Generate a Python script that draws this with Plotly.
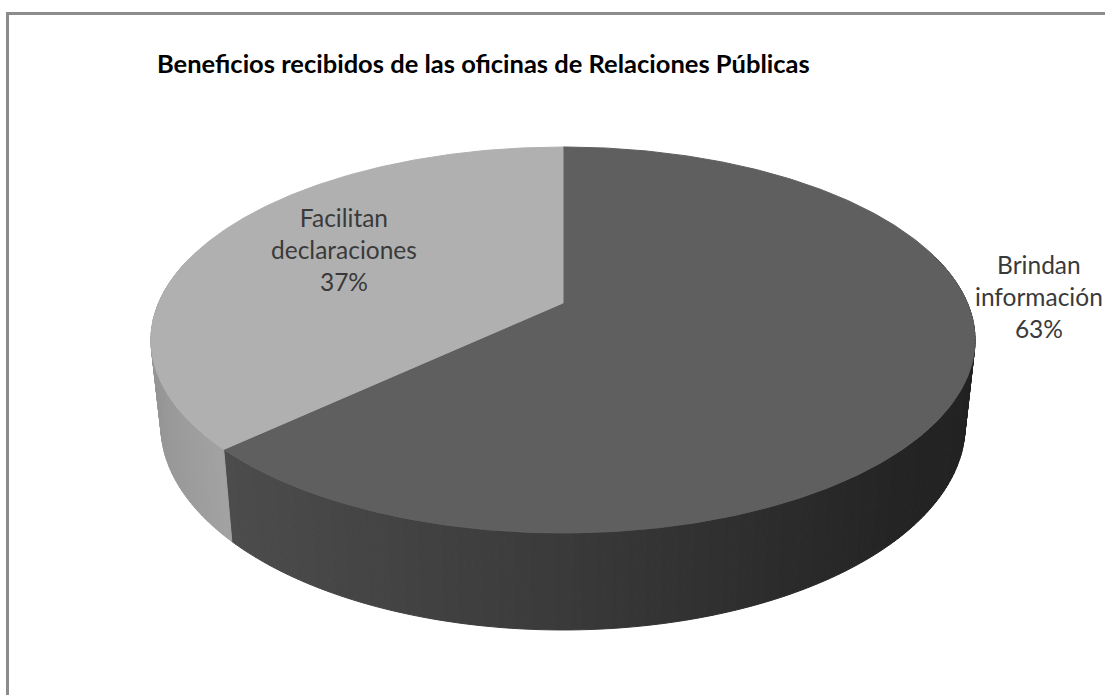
import numpy as np
import plotly.graph_objects as go

# Survey shares, clockwise from twelve o'clock
categories = ["Brindan información", "Facilitan declaraciones"]
shares = [63, 37]
label_lines = [["Brindan", "información"], ["Facilitan", "declaraciones"]]
title_text = "Beneficios recibidos de las oficinas de Relaciones Públicas"

top_colors = ["#5f5f5f", "#b0b0b0"]
# Wall shade as (x pixel, grey level) stops for each slice
wall_shades = [[(225, 76), (560, 58), (900, 36), (975, 34)], [(150, 150), (225, 163)]]
label_anchor = [(1039, 248), (344, 201)]

# Perspective disc: hub pixel, half-width, depth scale, foreshortening
HUB_X, HUB_Y = 563.0, 303.0
A, B, K = 404.4, 185.9, 0.1917
# Lower rim relative to the upper one
WALL_SX, WALL_SY, WALL_DY = 0.976, 1.06, 92.0


def rim(theta):
    """Project a clockwise-from-top angle onto the upper rim."""
    u, v = np.sin(theta), -np.cos(theta)
    w = 1 - K * v
    return HUB_X + A * u / w, HUB_Y + B * v / w


def lower(x, y):
    return HUB_X + (x - HUB_X) * WALL_SX, y + WALL_DY + (y - 450.0) * (WALL_SY - 1)


fractions = np.cumsum([0] + shares) / sum(shares)
angles = fractions * 2 * np.pi
fig = go.Figure()

# Outer wall, as thin vertical strips so the shade can vary along it
visible_from, visible_to = np.radians(75), np.radians(285)
for i in range(len(shares)):
    start, stop = max(angles[i], visible_from), min(angles[i + 1], visible_to)
    edges = np.linspace(start, stop, int((stop - start) * 60) + 2)
    stops_x, stops_g = zip(*wall_shades[i])
    for a0, a1 in zip(edges[:-1], edges[1:]):
        arc = np.linspace(a0, a1, 3)
        xt, yt = rim(arc)
        xb, yb = lower(xt, yt)
        level = int(round(np.interp(xt.mean(), stops_x, stops_g)))
        color = f"rgb({level},{level},{level})"
        fig.add_trace(go.Scatter(
            x=np.r_[xt, xb[::-1], xt[0]], y=np.r_[yt, yb[::-1], yt[0]],
            mode="lines", fill="toself", fillcolor=color,
            line=dict(color=color, width=1), hoverinfo="skip", showlegend=False,
        ))

# Upper faces of the slices
for i, name in enumerate(categories):
    arc = np.linspace(angles[i], angles[i + 1], 360)
    xt, yt = rim(arc)
    fig.add_trace(go.Scatter(
        x=np.r_[HUB_X, xt, HUB_X], y=np.r_[HUB_Y, yt, HUB_Y],
        mode="lines", fill="toself", fillcolor=top_colors[i],
        line=dict(color=top_colors[i], width=1), name=name, showlegend=False,
    ))

# Slice labels
annotations = []
for lines, share, (ax, ay) in zip(label_lines, shares, label_anchor):
    annotations.append(dict(
        x=ax, y=ay, xref="x", yref="y", xanchor="center", yanchor="top",
        text="<br>".join(lines + [f"{share}%"]), showarrow=False, align="center",
        font=dict(family="Lato", size=24.5, color="#3a3a3a"),
    ))
annotations.append(dict(
    x=155, y=63, xref="x", yref="y", xanchor="left", yanchor="middle",
    text=f"<b>{title_text}</b>", showarrow=False,
    font=dict(family="Lato", size=25.5, color="#000000"),
))

# Chart frame: top and left rules run off the page
shapes = [
    dict(type="line", x0=6, x1=1105, y0=13.5, y1=13.5, line=dict(color="#8c8c8c", width=3)),
    dict(type="line", x0=7.5, x1=7.5, y0=12, y1=695, line=dict(color="#8c8c8c", width=3)),
]

fig.update_layout(
    width=1105, height=695, margin=dict(l=0, r=0, t=0, b=0),
    paper_bgcolor="#ffffff", plot_bgcolor="#ffffff",
    xaxis=dict(range=[0, 1105], visible=False, fixedrange=True),
    yaxis=dict(range=[695, 0], visible=False, fixedrange=True),
    annotations=annotations, shapes=shapes, showlegend=False,
)
fig.write_html("out.html")
